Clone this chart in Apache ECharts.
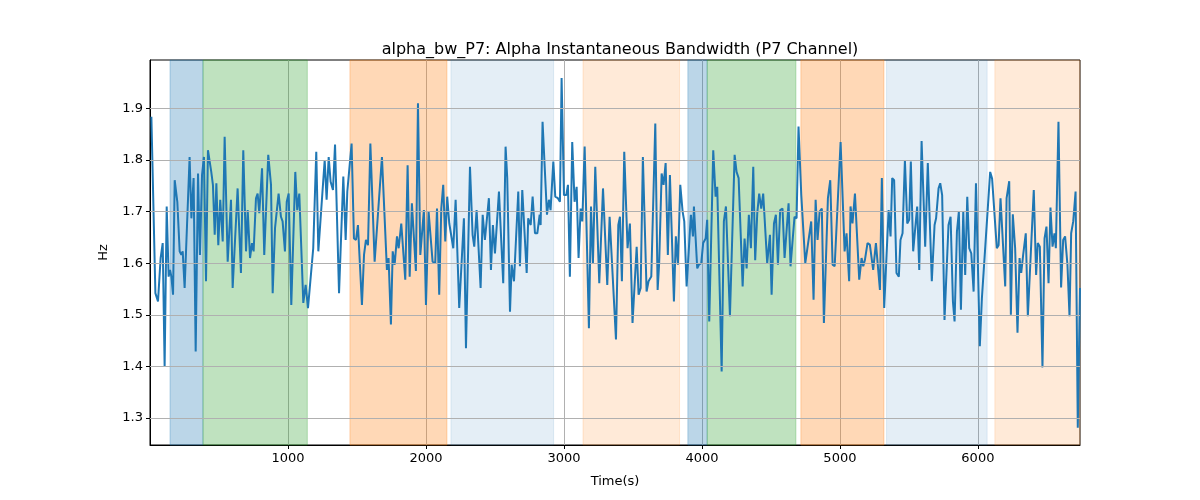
<!DOCTYPE html>
<html>
<head>
<meta charset="utf-8">
<title>alpha_bw_P7</title>
<script src="https://cdn.jsdelivr.net/npm/echarts@6/dist/echarts.min.js"></script>
<style>
  html, body { margin: 0; padding: 0; background: #fff; }
  #chart { width: 1200px; height: 500px; }
</style>
</head>
<body>
<div id="chart"></div>
<script>
// time (s) of each sample
const times = [
  10, 39, 58, 77, 92, 106, 121, 135, 145, 155, 167, 179, 198, 215, 227, 237, 251, 287, 300, 316,
  331, 348, 362, 377, 391, 406, 420, 444, 456, 469, 481, 495, 509, 527, 541,
  563, 575, 587, 599, 635, 659, 676, 696, 708, 725, 739, 751, 768, 780, 792, 812, 828, 857, 877,
  889, 906, 918, 932, 949, 961, 978, 991, 1005, 1024, 1053, 1067, 1082, 1111,
  1128, 1145, 1183, 1205, 1220, 1266, 1280, 1295, 1309, 1326, 1341, 1370, 1401, 1418, 1430, 1444,
  1461, 1478, 1493, 1507, 1536, 1551, 1565, 1580, 1597, 1628, 1681,
  1717, 1729, 1746, 1759, 1773, 1790, 1802, 1821, 1850, 1867, 1882, 1898, 1927, 1942, 1959, 1985,
  2000, 2019, 2048, 2067, 2080, 2096, 2111, 2125, 2140, 2154, 2169, 2183, 2198, 2215, 2241,
  2275, 2290, 2319, 2338, 2350, 2367, 2396, 2411, 2427, 2456, 2471, 2485, 2500, 2529, 2560, 2577,
  2589, 2609, 2621, 2638, 2669, 2681, 2698, 2730, 2741, 2759, 2773, 2790, 2807,
  2824, 2831, 2845, 2877, 2891, 2903, 2923, 2937, 2956, 2971, 2983, 3000, 3017, 3029, 3043, 3060,
  3077, 3092, 3106, 3121, 3133, 3150, 3181, 3196, 3210, 3227, 3256, 3283, 3314, 3331, 3377,
  3394, 3406, 3420, 3437, 3461, 3478, 3497, 3527, 3541, 3556, 3572, 3599, 3613, 3633, 3662, 3679,
  3690, 3708, 3722, 3737, 3753, 3768, 3797, 3811, 3826, 3843, 3860, 3872, 3889, 3920, 3935,
  3942, 3966, 3978, 3995, 4009, 4027, 4038, 4053, 4082, 4099, 4111, 4143, 4159, 4174, 4203, 4237,
  4251, 4266, 4295, 4309, 4324, 4340, 4355, 4372, 4386, 4401, 4415, 4430, 4444, 4473, 4493, 4505,
  4522, 4536, 4551, 4567, 4584, 4599, 4628, 4642, 4671, 4686, 4700, 4720, 4749, 4763, 4792, 4809,
  4824, 4838, 4853, 4869, 4884, 4913, 4930, 4947, 4962, 5005, 5034, 5048, 5067,
  5077, 5091, 5109, 5140, 5157, 5169, 5181, 5200, 5217, 5241, 5261, 5290, 5304, 5321, 5338, 5353,
  5367, 5379, 5393, 5410, 5427, 5439, 5454, 5471, 5488, 5502, 5514, 5531, 5560, 5575, 5592, 5618, 5637,
  5666, 5686, 5697, 5715, 5727, 5741, 5758, 5787, 5802, 5819, 5831, 5848, 5862, 5877, 5894, 5908,
  5923, 5937, 5952, 5969, 5986, 6014, 6029, 6043, 6089, 6103, 6137, 6150, 6164, 6198,
  6208, 6227, 6239, 6253, 6270, 6287, 6302, 6314, 6328, 6347, 6362, 6405, 6422, 6434, 6449, 6468,
  6483, 6497, 6512, 6526, 6541, 6555, 6565, 6584, 6603, 6618, 6632, 6649, 6664, 6676, 6691, 6708,
  6724, 6740
]

// alpha bandwidth (Hz)
const bandwidth = [
  1.884, 1.542, 1.526, 1.610, 1.639, 1.400, 1.710, 1.574, 1.587, 1.574, 1.539, 1.761, 1.719, 1.623, 1.616, 1.623, 1.552, 1.806, 1.687, 1.765,
  1.429, 1.774, 1.616, 1.771, 1.806, 1.565, 1.819, 1.777, 1.752, 1.655, 1.755, 1.635, 1.723, 1.642, 1.845,
  1.603, 1.603, 1.723, 1.552, 1.745, 1.581, 1.819, 1.623, 1.703, 1.610, 1.639, 1.623, 1.726, 1.735, 1.697, 1.784, 1.616, 1.810, 1.752,
  1.542, 1.668, 1.671, 1.735, 1.690, 1.681, 1.623, 1.719, 1.735, 1.519, 1.777, 1.703, 1.735, 1.523,
  1.558, 1.513, 1.629, 1.816, 1.623, 1.800, 1.723, 1.806, 1.758, 1.742, 1.830, 1.542, 1.768, 1.645, 1.739, 1.740,
  1.832, 1.648, 1.645, 1.674, 1.519, 1.616, 1.645, 1.635, 1.832, 1.603, 1.806,
  1.587, 1.610, 1.481, 1.623, 1.597, 1.652, 1.629, 1.677, 1.568, 1.790, 1.574, 1.716, 1.585, 1.910, 1.616, 1.703,
  1.519, 1.700, 1.603, 1.600, 1.706, 1.539, 1.706, 1.752, 1.642, 1.729, 1.677, 1.674, 1.629, 1.723, 1.513,
  1.687, 1.435, 1.787, 1.655, 1.632, 1.703, 1.552, 1.694, 1.645, 1.726, 1.587, 1.674, 1.619, 1.739, 1.561, 1.826,
  1.765, 1.506, 1.597, 1.565, 1.739, 1.594, 1.742, 1.581, 1.687, 1.674, 1.729, 1.658, 1.658,
  1.694, 1.674, 1.874, 1.694, 1.723, 1.703, 1.797, 1.729, 1.726, 1.719, 1.959, 1.732, 1.732, 1.752, 1.574, 1.835,
  1.719, 1.748, 1.610, 1.706, 1.681, 1.826, 1.474, 1.710, 1.600, 1.787, 1.561, 1.745, 1.558, 1.690, 1.452,
  1.674, 1.690, 1.565, 1.816, 1.629, 1.677, 1.484, 1.632, 1.539, 1.552, 1.806, 1.545, 1.565, 1.574, 1.871, 1.548,
  1.600, 1.774, 1.752, 1.794, 1.616, 1.771, 1.526, 1.652, 1.597, 1.752, 1.700, 1.681, 1.555, 1.694, 1.652,
  1.710, 1.590, 1.597, 1.600, 1.639, 1.648, 1.684, 1.487, 1.819, 1.729, 1.748, 1.390, 1.681, 1.710, 1.497, 1.810,
  1.777, 1.765, 1.555, 1.648, 1.590, 1.694, 1.629, 1.787, 1.606, 1.697, 1.735, 1.706, 1.735, 1.600, 1.655, 1.539,
  1.677, 1.694, 1.597, 1.703, 1.706, 1.610, 1.716, 1.594, 1.690, 1.687, 1.865, 1.732, 1.600, 1.603, 1.681, 1.529,
  1.723, 1.645, 1.700, 1.706, 1.484, 1.726, 1.761, 1.597, 1.594, 1.835, 1.623, 1.658, 1.565,
  1.710, 1.677, 1.735, 1.568, 1.610, 1.594, 1.606, 1.639, 1.636, 1.587, 1.639, 1.548, 1.765, 1.513, 1.616, 1.703,
  1.652, 1.765, 1.761, 1.581, 1.574, 1.645, 1.658, 1.800, 1.677, 1.684, 1.797, 1.623, 1.710, 1.587, 1.837, 1.632, 1.794,
  1.565, 1.674, 1.687, 1.745, 1.755, 1.732, 1.490, 1.674, 1.690, 1.526, 1.487, 1.661, 1.700, 1.510, 1.700, 1.577,
  1.729, 1.629, 1.619, 1.545, 1.755, 1.439, 1.532, 1.533, 1.777, 1.764, 1.629, 1.635, 1.726, 1.555,
  1.726, 1.759, 1.500, 1.695, 1.629, 1.465, 1.610, 1.581, 1.616, 1.658, 1.497, 1.742, 1.577, 1.639, 1.632, 1.398,
  1.648, 1.671, 1.561, 1.708, 1.632, 1.658, 1.629, 1.874, 1.553, 1.645, 1.652, 1.597, 1.497, 1.658, 1.681, 1.739,
  1.281, 1.552
]

// shaded periods
const bandStart = [145, 384, 1449, 2181, 3138, 3898, 4038, 4717, 5338, 6123]
const bandEnd = [384, 1140, 2152, 2925, 3838, 4038, 4681, 5319, 6067, 6740]
const bandKind = ['blue', 'green', 'orange', 'paleBlue', 'paleOrange', 'blue', 'green', 'orange', 'paleBlue', 'paleOrange']

const xTicks = [1000, 2000, 3000, 4000, 5000, 6000]
const yTicks = [1.3, 1.4, 1.5, 1.6, 1.7, 1.8, 1.9]

const kindColor = {
  blue: 'rgba(31,119,180,0.3)',
  green: 'rgba(44,160,44,0.3)',
  orange: 'rgba(255,127,14,0.3)',
  paleBlue: 'rgba(31,119,180,0.12)',
  paleOrange: 'rgba(255,127,14,0.16)'
}

const font = 'DejaVu Sans'
const chart = echarts.init(document.getElementById('chart'), null, { renderer: 'canvas' })

const areas = bandStart.map((s, i) => {
  const c = kindColor[bandKind[i]]
  return [
    { xAxis: s, itemStyle: { color: c, borderColor: c, borderWidth: 1 } },
    { xAxis: bandEnd[i] }
  ]
})

chart.setOption({
  animation: false,
  title: {
    text: 'alpha_bw_P7: Alpha Instantaneous Bandwidth (P7 Channel)',
    left: 615,
    top: 37,
    textAlign: 'center',
    textStyle: { fontFamily: font, fontSize: 16, fontWeight: 'normal', color: '#000' }
  },
  grid: {
    left: 150,
    right: 120,
    top: 60,
    bottom: 55,
    show: true,
    borderColor: '#000',
    borderWidth: 1,
    backgroundColor: 'transparent'
  },
  xAxis: {
    type: 'value',
    min: 0,
    max: 6740,
    interval: 1000,
    name: 'Time(s)',
    nameLocation: 'middle',
    nameGap: 30,
    nameTextStyle: { fontFamily: font, fontSize: 13, color: '#000' },
    axisLine: { show: true, lineStyle: { color: '#000', width: 1 } },
    axisTick: { show: true, length: 4, lineStyle: { color: '#000' }, customValues: xTicks },
    axisLabel: {
      fontFamily: font,
      fontSize: 13,
      color: '#000',
      margin: 7,
      customValues: xTicks,
      formatter: v => String(v)
    },
    splitLine: { show: true, lineStyle: { color: '#b0b0b0', width: 1 } }
  },
  yAxis: {
    type: 'value',
    min: 1.2475,
    max: 1.994,
    name: 'Hz',
    nameLocation: 'middle',
    nameGap: 40,
    nameRotate: 90,
    nameTextStyle: { fontFamily: font, fontSize: 13, color: '#000' },
    axisLine: { show: true, lineStyle: { color: '#000', width: 1 } },
    axisTick: { show: true, length: 4, lineStyle: { color: '#000' }, customValues: yTicks },
    axisLabel: {
      fontFamily: font,
      fontSize: 13,
      color: '#000',
      margin: 7,
      customValues: yTicks,
      formatter: v => v.toFixed(1)
    },
    splitLine: { show: false }
  },
  series: [{
    type: 'line',
    data: times.map((t, i) => [t, bandwidth[i]]),
    showSymbol: false,
    symbol: 'none',
    lineStyle: { color: '#1f77b4', width: 2 },
    z: 3,
    markArea: { silent: true, data: areas }
  }, {
    // y grid lines at the labelled ticks
    type: 'line',
    data: [],
    markLine: {
      silent: true,
      symbol: 'none',
      label: { show: false },
      lineStyle: { color: '#b0b0b0', width: 1, type: 'solid' },
      data: yTicks.map(v => ({ yAxis: v }))
    },
    z: 1
  }]
})
</script>
</body>
</html>
